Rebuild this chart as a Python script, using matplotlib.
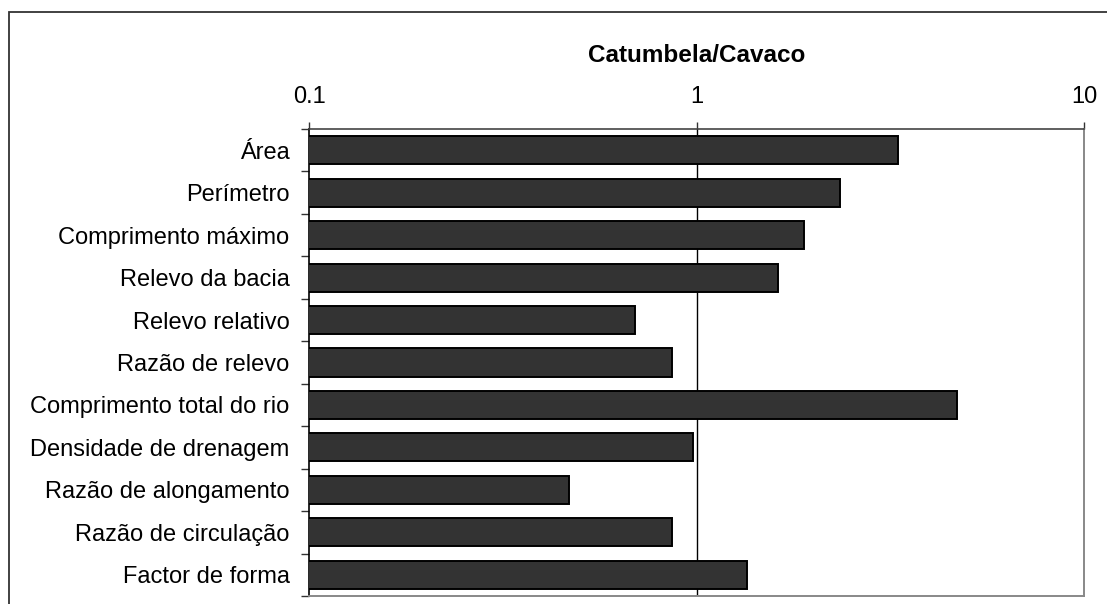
import matplotlib
matplotlib.use("Agg")
import matplotlib.pyplot as plt
from matplotlib.patches import Rectangle
from matplotlib.ticker import FixedLocator, NullFormatter, NullLocator

plt.rcParams['font.family'] = ['Liberation Sans', 'DejaVu Sans']

# Catumbela/Cavaco ratios of basin morphometric parameters
categories = [
    "Área",
    "Perímetro",
    "Comprimento máximo",
    "Relevo da bacia",
    "Relevo relativo",
    "Razão de relevo",
    "Comprimento total do rio",
    "Densidade de drenagem",
    "Razão de alongamento",
    "Razão de circulação",
    "Factor de forma",
]
ratios = [3.32, 2.34, 1.89, 1.62, 0.693, 0.862, 4.69, 0.981, 0.469, 0.862, 1.346]
x_ticks = [0.1, 1, 10]
x_tick_labels = ["0.1", "1", "10"]
title = "Catumbela/Cavaco"

W, H = 1107, 604
fig = plt.figure(figsize=(W / 100, H / 100), dpi=100)
fig.patch.set_facecolor("white")

# outer chart frame (open towards the right and bottom edges)
fig.patches.append(Rectangle((9 / W, -0.2), 1.5, 1 - 12 / H + 0.2,
                             transform=fig.transFigure, fill=False,
                             edgecolor="#333333", linewidth=1.3))

left, right, top, bottom = 309, 1084, 129, 596
ax = fig.add_axes([left / W, 1 - bottom / H, (right - left) / W, (bottom - top) / H])

y = list(range(len(categories)))
ax.barh(y, ratios, height=0.66, left=0.0001, color="#333333",
        edgecolor="black", linewidth=1.4, zorder=3)

ax.set_xscale("log")
ax.set_xlim(0.1, 10)
ax.set_ylim(len(categories) - 0.5, -0.5)

# reference line at ratio 1
ax.axvline(1, color="black", linewidth=1.0, zorder=2)

# x axis on top
ax.xaxis.tick_top()
ax.xaxis.set_label_position("top")
ax.xaxis.set_major_locator(FixedLocator(x_ticks))
ax.xaxis.set_minor_locator(NullLocator())
ax.set_xticklabels(x_tick_labels)
ax.tick_params(axis="x", which="major", direction="out", length=5, width=1,
               color="#333333", labelsize=17, pad=10)
ax.set_xlabel(title, fontsize=17.5, fontweight="bold", labelpad=17.5)

# y axis: labels at category centres, tick marks between categories
ax.set_yticks(y)
ax.set_yticklabels(categories)
ax.tick_params(axis="y", which="major", length=0, labelsize=17, pad=14)
ax.yaxis.set_minor_locator(FixedLocator([i - 0.5 for i in range(len(categories) + 1)]))
ax.yaxis.set_minor_formatter(NullFormatter())
ax.tick_params(axis="y", which="minor", direction="out", length=6, width=1, color="#333333")

ax.spines["left"].set_color("black")
ax.spines["left"].set_linewidth(1.2)
ax.spines["top"].set_color("#444444")
ax.spines["top"].set_linewidth(1.2)
ax.spines["right"].set_color("#888888")
ax.spines["right"].set_linewidth(1.4)
ax.spines["bottom"].set_color("#888888")
ax.spines["bottom"].set_linewidth(1.4)

fig.savefig("out.png", dpi=100, facecolor="white")
